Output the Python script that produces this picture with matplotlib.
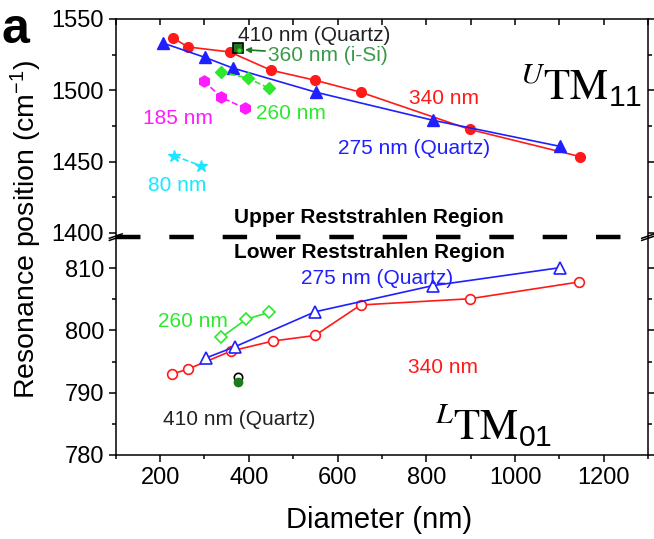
import matplotlib
matplotlib.use("Agg")
import matplotlib.pyplot as plt

plt.rcParams['font.family'] = ['Liberation Sans', 'DejaVu Sans']
plt.rcParams['mathtext.default'] = 'regular'

# ---- upper reststrahlen band (UTM11), filled markers ----
d340_up = [229, 263, 357, 450, 549, 652, 898, 1146]
w340_up = [1536.6, 1530.3, 1526.8, 1514.0, 1507.0, 1498.6, 1472.5, 1453.5]
d275_up = [207, 301, 364, 551, 814, 1102]
w275_up = [1533.0, 1523.0, 1515.5, 1498.6, 1479.0, 1460.6]
d185_up = [299, 338, 391]
w185_up = [1506.3, 1495.0, 1487.3]
d260_up = [337, 398, 445]
w260_up = [1512.7, 1508.5, 1501.4]
d80_up = [232, 292]
w80_up = [1454.0, 1447.0]
d410_up = [376]
w410_up = [1529.5]
d360_up = [378]
w360_up = [1528.5]

# ---- lower reststrahlen band (LTM01), open markers ----
d340_lo = [227, 263, 360, 454, 549, 652, 898, 1145]
w340_lo = [793.0, 793.8, 796.7, 798.3, 799.2, 804.1, 805.1, 807.8]
d275_lo = [304, 369, 549, 814, 1102]
w275_lo = [795.6, 797.4, 803.0, 807.2, 810.1]
d260_lo = [338, 394, 445]
w260_lo = [798.9, 801.8, 802.9]
d410_lo = [376]
w410_lo = [792.5]
d360_lo = [376]
w360_lo = [791.7]

RED = '#ff1a1a'
BLUE = '#1f1fff'
MAG = '#ff1aff'
GRN = '#2ee82e'
CYN = '#19e6ff'
DKG = '#1e7a1e'

fig = plt.figure(figsize=(6.54, 5.39), dpi=100)
ax_up = fig.add_axes([0.177, 0.560, 0.814, 0.405])
ax_lo = fig.add_axes([0.177, 0.156, 0.814, 0.404])

# upper panel
ax_up.plot(d340_up, w340_up, '-o', color=RED, ms=7, lw=1.2)
ax_up.plot(d275_up, w275_up, '-^', color=BLUE, ms=8, lw=1.2)
ax_up.plot(d185_up, w185_up, '--h', color=MAG, ms=8, lw=1.2)
ax_up.plot(d260_up, w260_up, '--D', color=GRN, ms=6.5, lw=1.2)
ax_up.plot(d80_up, w80_up, '--*', color=CYN, ms=9, lw=1.2)
ax_up.plot(d410_up, w410_up, 's', mfc=DKG, mec='black', ms=7, mew=1.2)
ax_up.plot(d360_up, w360_up, 'o', mfc=GRN, mec=DKG, ms=4)

# lower panel
ax_lo.plot(d340_lo, w340_lo, '-o', color=RED, mfc='white', ms=7, lw=1.2, mew=1.2)
ax_lo.plot(d275_lo, w275_lo, '-^', color=BLUE, mfc='white', ms=8, lw=1.2, mew=1.2)
ax_lo.plot(d260_lo, w260_lo, '-D', color=GRN, mfc='white', ms=6.5, lw=1.2, mew=1.2)
ax_lo.plot(d410_lo, w410_lo, 'o', mfc='white', mec='black', ms=6, mew=1.2)
ax_lo.plot(d360_lo, w360_lo, 'o', mfc=DKG, mec=DKG, ms=6)

for ax in (ax_up, ax_lo):
    ax.set_xlim(100, 1300)
    ax.set_xticks([200, 400, 600, 800, 1000, 1200])
    ax.set_xticks(range(100, 1301, 100), minor=True)
    for s in ax.spines.values():
        s.set_linewidth(1.1)
    ax.tick_params(axis='both', which='both', labelsize=17, width=1.1)
    ax.tick_params(axis='y', which='major', length=5, direction='out', right=True)
    ax.tick_params(axis='y', which='minor', length=3, direction='out', right=True)

ax_up.set_ylim(1397, 1550)
ax_up.set_yticks([1400, 1450, 1500, 1550])
ax_up.set_yticks([1425, 1475, 1525], minor=True)
ax_up.spines['bottom'].set_visible(False)
ax_up.tick_params(axis='x', which='both', bottom=False, labelbottom=False,
                  top=True, direction='in', length=4)

ax_lo.set_ylim(780, 815)
ax_lo.set_yticks([780, 790, 800, 810])
ax_lo.set_yticks([785, 795, 805], minor=True)
ax_lo.spines['top'].set_visible(False)
ax_lo.tick_params(axis='x', which='major', direction='out', length=5, top=False)
ax_lo.tick_params(axis='x', which='minor', direction='out', length=3, top=False)

# dashed boundary between the two bands
ax_lo.axhline(815, color='black', lw=3.2, dashes=(5.5, 6.5), clip_on=False)

# break marks on both spines
kw = dict(transform=ax_lo.transAxes, color='black', clip_on=False, lw=1.1)
for xb in (0, 1):
    ax_lo.plot([xb - 0.012, xb + 0.012], [0.985, 1.005], **kw)
    ax_lo.plot([xb - 0.012, xb + 0.012], [0.995, 1.015], **kw)

# annotations, upper panel
ax_up.text(375, 1538, '410 nm (Quartz)', fontsize=15, color='#222222', va='center')
ax_up.annotate('360 nm (i-Si)', xy=(385, 1528.5), xytext=(443, 1524.6),
               fontsize=15, color='#3a9a4a', va='center',
               arrowprops=dict(arrowstyle='-|>', color=DKG, lw=1.2,
                               mutation_scale=8, shrinkA=0, shrinkB=2))
ax_up.text(162, 1480, '185 nm', fontsize=15, color=MAG, va='center')
ax_up.text(416, 1484, '260 nm', fontsize=15, color=GRN, va='center')
ax_up.text(173, 1433, '80 nm', fontsize=15, color=CYN, va='center')
ax_up.text(762, 1494, '340 nm', fontsize=15, color=RED, va='center')
ax_up.text(600, 1459, '275 nm (Quartz)', fontsize=15, color=BLUE, va='center')
ax_up.text(1012, 1493, r'$^{\mathit{U}}\mathrm{TM}_{11}$', fontsize=31,
           math_fontfamily='stix', va='baseline')
ax_up.text(670, 1410.6, 'Upper Reststrahlen Region', fontsize=15,
           fontweight='bold', ha='center', va='center')

# annotations, lower panel
ax_lo.text(672, 812.5, 'Lower Reststrahlen Region', fontsize=15,
           fontweight='bold', ha='center', va='center')
ax_lo.text(517, 808.3, '275 nm (Quartz)', fontsize=15, color=BLUE, va='center')
ax_lo.text(195, 801.5, '260 nm', fontsize=15, color=GRN, va='center')
ax_lo.text(758, 794.1, '340 nm', fontsize=15, color=RED, va='center')
ax_lo.text(207, 785.7, '410 nm (Quartz)', fontsize=15, color='#222222', va='center')
ax_lo.text(820, 782.4, r'$^{\mathit{L}}\mathrm{TM}_{01}$', fontsize=31,
           math_fontfamily='stix', va='baseline')

fig.text(0.04, 0.575, 'Resonance position (cm$^{-1}$)', fontsize=20.5,
         rotation=90, ha='center', va='center')
fig.text(0.58, 0.035, 'Diameter (nm)', fontsize=21, ha='center', va='center')
fig.text(0.003, 0.92, 'a', fontsize=36, fontweight='bold', va='baseline')

fig.savefig('out.png', dpi=100)
